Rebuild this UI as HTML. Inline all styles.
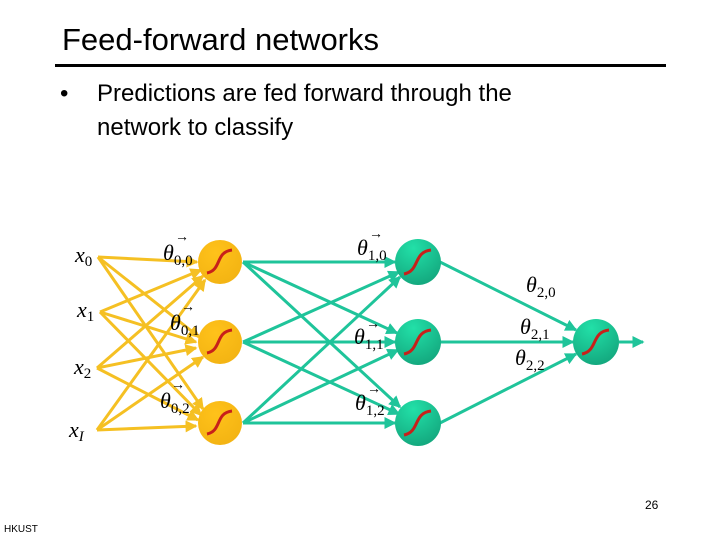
<!DOCTYPE html>
<html><head><style>
body{margin:0;width:720px;height:540px;background:#fff;position:relative;overflow:hidden;font-family:"Liberation Sans",sans-serif}
.t{position:absolute;white-space:nowrap}
</style></head><body>
<div class="t" style="left:62px;top:22px;font-size:31px">Feed-forward networks</div>
<div style="position:absolute;left:55px;top:64px;width:611px;height:3px;background:#000"></div>
<div class="t" style="left:60px;top:77px;font-size:24px;line-height:34px">•</div>
<div class="t" style="left:97px;top:77px;font-size:24px;line-height:34px">Predictions are fed forward through the<br>network to classify</div>
<div class="t" style="left:645px;top:498px;font-size:12px">26</div>
<div class="t" style="left:4px;top:524px;font-size:10px">HKUST</div>
<svg width="720" height="540" style="position:absolute;left:0;top:0" font-family="Liberation Serif,serif" font-style="italic">
<defs>
<marker id="ay" markerWidth="4" markerHeight="4" refX="3.5" refY="2" orient="auto" markerUnits="strokeWidth"><path d="M0,0L4,2L0,4z" fill="#f5c023"/></marker>
<marker id="ag" markerWidth="4" markerHeight="4" refX="3.5" refY="2" orient="auto" markerUnits="strokeWidth"><path d="M0,0L4,2L0,4z" fill="#1fc49a"/></marker>
<radialGradient id="gy" cx="0.4" cy="0.3" r="0.8"><stop offset="0" stop-color="#ffc21a"/><stop offset="1" stop-color="#f2b212"/></radialGradient>
<radialGradient id="gg" cx="0.4" cy="0.2" r="0.8"><stop offset="0" stop-color="#22e0a8"/><stop offset="1" stop-color="#14a97f"/></radialGradient>
</defs>
<g stroke="#f5c023" stroke-width="3" marker-end="url(#ay)">
<line x1="98" y1="257" x2="197" y2="262"/><line x1="98" y1="257" x2="199" y2="337"/><line x1="98" y1="257" x2="203" y2="409"/>
<line x1="100" y1="312" x2="201" y2="270"/><line x1="100" y1="312" x2="196" y2="342"/><line x1="100" y1="312" x2="201" y2="415"/>
<line x1="97" y1="368" x2="203" y2="276"/><line x1="97" y1="368" x2="196" y2="348"/><line x1="97" y1="368" x2="198" y2="420"/>
<line x1="97" y1="430" x2="205" y2="280"/><line x1="97" y1="430" x2="203" y2="357"/><line x1="97" y1="430" x2="196" y2="426"/>
</g>
<g stroke="#1fc49a" stroke-width="3" marker-end="url(#ag)">
<line x1="243" y1="262" x2="395" y2="262"/><line x1="243" y1="262" x2="397" y2="333"/><line x1="243" y1="262" x2="400" y2="407"/>
<line x1="243" y1="342" x2="399" y2="272"/><line x1="243" y1="342" x2="395" y2="342"/><line x1="243" y1="342" x2="399" y2="414"/>
<line x1="243" y1="423" x2="400" y2="277"/><line x1="243" y1="423" x2="398" y2="350"/><line x1="243" y1="423" x2="395" y2="423"/>
<line x1="440" y1="262" x2="576" y2="330"/><line x1="440" y1="342" x2="573" y2="342"/><line x1="440" y1="423" x2="576" y2="354"/>
<line x1="619" y1="342" x2="643" y2="342"/>
</g>
<g>
<circle cx="220" cy="262" r="22" fill="url(#gy)"/><circle cx="220" cy="342" r="22" fill="url(#gy)"/><circle cx="220" cy="423" r="22" fill="url(#gy)"/>
<circle cx="418" cy="262" r="23" fill="url(#gg)"/><circle cx="418" cy="342" r="23" fill="url(#gg)"/><circle cx="418" cy="423" r="23" fill="url(#gg)"/>
<circle cx="596" cy="342" r="23" fill="url(#gg)"/>
</g>
<g stroke="#c8201a" stroke-width="3" fill="none">
<path d="M207,273 C222,270 215,252 232,250"/><path d="M207,353 C222,350 215,332 232,330"/><path d="M207,434 C222,431 215,413 232,411"/>
<path d="M404,274 C420,271 413,252 431,250"/><path d="M404,354 C420,351 413,332 431,330"/><path d="M404,435 C420,432 413,413 431,411"/>
<path d="M582,354 C598,351 591,332 609,330"/>
</g>
<g font-size="22" fill="#000">
<text x="75" y="262">x<tspan font-size="15" font-style="normal" dy="4">0</tspan></text>
<text x="77" y="317">x<tspan font-size="15" font-style="normal" dy="4">1</tspan></text>
<text x="74" y="374">x<tspan font-size="15" font-style="normal" dy="4">2</tspan></text>
<text x="69" y="437">x<tspan font-size="15" dy="4">I</tspan></text>
<text x="163" y="260">θ<tspan font-size="15" font-style="normal" dy="5">0,0</tspan></text>
<text x="170" y="330">θ<tspan font-size="15" font-style="normal" dy="5">0,1</tspan></text>
<text x="160" y="408">θ<tspan font-size="15" font-style="normal" dy="5">0,2</tspan></text>
<text x="357" y="255">θ<tspan font-size="15" font-style="normal" dy="5">1,0</tspan></text>
<text x="354" y="344">θ<tspan font-size="15" font-style="normal" dy="5">1,1</tspan></text>
<text x="355" y="410">θ<tspan font-size="15" font-style="normal" dy="5">1,2</tspan></text>
<text x="526" y="292">θ<tspan font-size="15" font-style="normal" dy="5">2,0</tspan></text>
<text x="520" y="334">θ<tspan font-size="15" font-style="normal" dy="5">2,1</tspan></text>
<text x="515" y="365">θ<tspan font-size="15" font-style="normal" dy="5">2,2</tspan></text>
</g>
<g font-size="14" font-style="normal">
<text x="175" y="241">→</text><text x="181" y="311">→</text><text x="171" y="389">→</text>
<text x="369" y="238">→</text><text x="366" y="328">→</text><text x="367" y="393">→</text>
</g>
</svg>
</body></html>
